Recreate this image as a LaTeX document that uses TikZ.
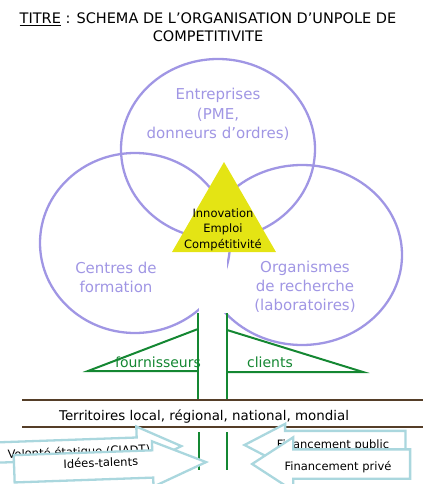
\documentclass[tikz,border=0pt]{standalone}
\usepackage{fontspec}
\setmainfont{DejaVu Sans}
\usepackage{xcolor}
\definecolor{lavande}{RGB}{160,150,228}
\definecolor{jaune}{RGB}{228,228,20}
\definecolor{vert}{RGB}{20,135,50}
\definecolor{brun}{RGB}{85,62,40}
\definecolor{turquoise}{RGB}{170,215,222}
\usepackage{tikz}
\usetikzlibrary{shapes.geometric,shapes.arrows}

\begin{document}
\begin{tikzpicture}[
    x=1pt, y=-1pt,
    cercle/.style={ellipse, draw=lavande, line width=2.3pt, inner sep=0pt},
    etiquette/.style={text=lavande, font=\fontsize{15}{19}\selectfont,
      align=center, anchor=base},
    moteur/.style={regular polygon, regular polygon sides=3, fill=jaune,
      inner sep=0pt, minimum size=120pt},
    tronc/.style={draw=vert, line width=2pt},
    sol/.style={draw=brun, line width=2.5pt},
    fleche/.style={single arrow, draw=turquoise, fill=white, line width=2.3pt,
      inner xsep=0pt, minimum width=0pt, anchor=tip},
    legende/.style={font=\fontsize{11.5}{14}\selectfont, anchor=base}
  ]
    \useasboundingbox (0,0) rectangle (430,484);

    % titre
    \node[font=\fontsize{14.5}{18}\selectfont, align=center, anchor=base] (titre) at (208,42)
      {\underline{TITRE} : SCHEMA DE L’ORGANISATION D’UNPOLE DE\\COMPETITIVITE};

    % les trois poles
    \node[cercle, minimum width=194pt, minimum height=180pt] (entreprises) at (218,149) {};
    \node[cercle, minimum width=190pt, minimum height=180pt] (formation) at (135,243) {};
    \node[cercle, minimum width=200pt, minimum height=180pt] (recherche) at (302,255) {};
    \fill[white] (198.5,252) rectangle (226.5,313);
    \node[moteur] (triangle) at (224,222) {};

    \node[etiquette] (lblentreprises) at (218,138) {Entreprises\\(PME,\\donneurs d’ordres)};
    \node[etiquette] (lblformation) at (116,292) {Centres de\\formation};
    \node[etiquette] (lblrecherche) at (305,310) {Organismes\\de recherche\\(laboratoires)};
    \node[font=\fontsize{11.5}{15.5}\selectfont, align=center, anchor=base] (lbltriangle) at (223,248)
      {Innovation\\Emploi\\Compétitivité};

    % tronc et branches
    \draw[tronc] (198,313) -- (198,400);
    \draw[tronc] (227,313) -- (227,400);
    \draw[tronc] (198,329) -- (88,371) -- (198,371);
    \draw[tronc] (227,330) -- (363,372) -- (227,372);
    \draw[tronc] (199,432) -- (199,470);
    \draw[tronc] (227,432) -- (227,470);
    \node[text=vert, font=\fontsize{14}{16}\selectfont, anchor=base] (fournisseurs) at (158,367) {fournisseurs};
    \node[text=vert, font=\fontsize{14}{16}\selectfont, anchor=base] (clients) at (270,367) {clients};

    % sol
    \draw[sol] (22,400) -- (423,400);
    \draw[sol] (22,427) -- (423,427);
    \node[font=\fontsize{13.4}{16}\selectfont, anchor=base] (territoires) at (204,420)
      {Territoires local, régional, national, mondial};

    % apports
    \node[fleche, inner ysep=9pt, minimum height=205pt, single arrow head extend=11pt,
      single arrow tip angle=51, rotate=2] (volonte) at (184,446) {};
    \node[legende, rotate=2] (lblvolonte) at (79,456) {Volonté étatique (CIADT)};
    \node[fleche, inner ysep=12.5pt, minimum height=192pt, single arrow head extend=9pt,
      single arrow tip angle=46, rotate=2] (idees) at (209,462) {};
    \node[legende, rotate=2] (lblidees) at (101,467) {Idées-talents};
    \node[fleche, inner ysep=13pt, minimum height=161pt, single arrow head extend=7pt,
      single arrow tip angle=55, shape border rotate=180] (public) at (242,445) {};
    \node[legende] (lblpublic) at (333,448) {Financement public};
    \node[fleche, inner ysep=13.5pt, minimum height=158pt, single arrow head extend=12pt,
      single arrow tip angle=66, shape border rotate=180] (prive) at (250,464) {};
    \node[legende] (lblprive) at (338,470) {Financement privé};
\end{tikzpicture}
\end{document}
